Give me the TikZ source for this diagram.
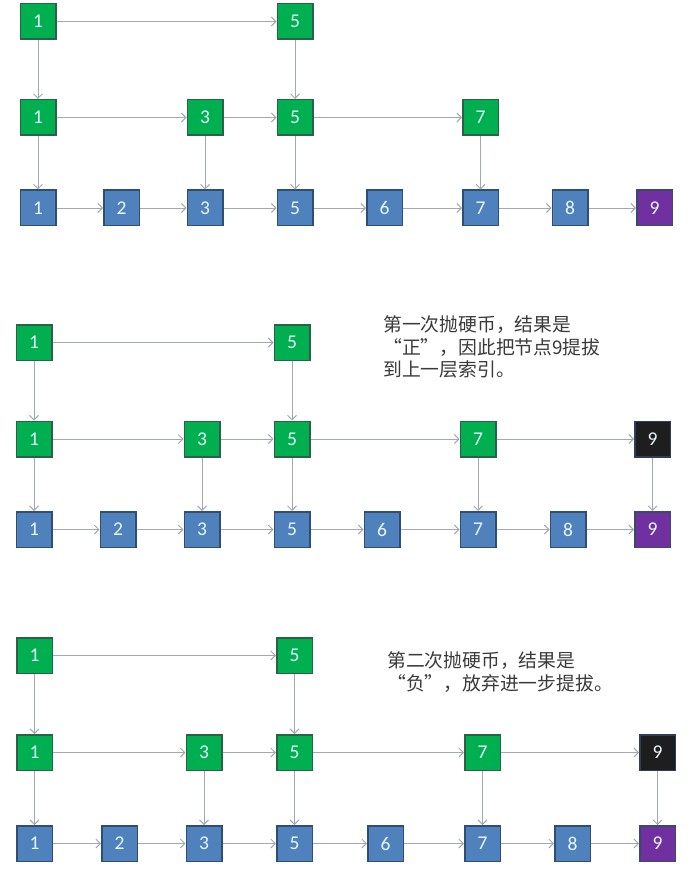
\documentclass[tikz,border=0pt]{standalone}
\usepackage{fontspec}
\setmainfont{Carlito}
\newfontfamily\cjk{Noto Sans CJK SC}
\usetikzlibrary{arrows.meta}
\definecolor{gfill}{HTML}{00B050}
\definecolor{gdraw}{HTML}{2B6148}
\definecolor{bfill}{HTML}{4F81BD}
\definecolor{bdraw}{HTML}{2E4E76}
\definecolor{pfill}{HTML}{7030A0}
\definecolor{pdraw}{HTML}{3B4A6A}
\definecolor{kfill}{HTML}{1E1E1E}
\definecolor{kdraw}{HTML}{2E3E5A}
\definecolor{arr}{HTML}{A2A9B0}
\definecolor{txt}{HTML}{3A3A3A}
\tikzset{
  box/.style={rectangle, minimum size=35.5pt, inner sep=0pt, line width=1.5pt,
    font=\fontsize{19.5}{19.5}\selectfont, text=white!90!cyan},
  gbox/.style={box, fill=gfill, draw=gdraw},
  bbox/.style={box, fill=bfill, draw=bdraw},
  pbox/.style={box, fill=pfill, draw=pdraw},
  kbox/.style={box, fill=kfill, draw=kdraw},
  link/.style={draw=arr, line width=0.9pt, -{Straight Barb[length=4.5pt,width=9pt,line width=0.9pt]}},
  note/.style={anchor=base west, inner sep=0pt, text=txt, font=\cjk\fontsize{18.8}{18.8}\selectfont},
}
% #1 prefix, #2 y1, #3 y2, #4 y3, #5 black nine (1/0); columns in \xa..\xh
\newcommand\mkpanel[5]{%
  \node[gbox] (#1ta) at (\xa,#2) {1};
  \node[gbox] (#1te) at (\xd,#2) {5};
  \node[gbox] (#1ma) at (\xa,#3) {1};
  \node[gbox] (#1mc) at (\xc,#3) {3};
  \node[gbox] (#1me) at (\xd,#3) {5};
  \node[gbox] (#1mg) at (\xf,#3) {7};
  \node[bbox] (#1ba) at (\xa,#4) {1};
  \node[bbox] (#1bb) at (\xb,#4) {2};
  \node[bbox] (#1bc) at (\xc,#4) {3};
  \node[bbox] (#1be) at (\xd,#4) {5};
  \node[bbox] (#1bf) at (\xe,#4) {6};
  \node[bbox] (#1bg) at (\xf,#4) {7};
  \node[bbox] (#1bh) at (\xg,#4) {8};
  \node[pbox] (#1bi) at (\xh,#4) {9};
  \draw[link] (#1ta) -- (#1te);
  \draw[link] (#1ta) -- (#1ma);
  \draw[link] (#1te) -- (#1me);
  \draw[link] (#1ma) -- (#1mc);
  \draw[link] (#1mc) -- (#1me);
  \draw[link] (#1me) -- (#1mg);
  \draw[link] (#1ma) -- (#1ba);
  \draw[link] (#1mc) -- (#1bc);
  \draw[link] (#1me) -- (#1be);
  \draw[link] (#1mg) -- (#1bg);
  \draw[link] (#1ba) -- (#1bb);
  \draw[link] (#1bb) -- (#1bc);
  \draw[link] (#1bc) -- (#1be);
  \draw[link] (#1be) -- (#1bf);
  \draw[link] (#1bf) -- (#1bg);
  \draw[link] (#1bg) -- (#1bh);
  \draw[link] (#1bh) -- (#1bi);
  \ifnum#5=1
    \node[kbox] (#1mi) at (\xh,#3) {9};
    \draw[link] (#1mg) -- (#1mi);
    \draw[link] (#1mi) -- (#1bi);
  \fi
}
\begin{document}
\begin{tikzpicture}[x=1pt,y=-1pt]
\useasboundingbox[fill=white] (0,0) rectangle (700,877);
% panel 1
\def\xa{38}\def\xb{121.5}\def\xc{205}\def\xd{295}\def\xe{384.5}\def\xf{480.5}\def\xg{570}\def\xh{654.5}
\mkpanel{p}{21.5}{117.5}{208}{0}
% panel 2
\def\xa{34}\def\xb{118}\def\xc{202}\def\xd{292}\def\xe{382}\def\xf{478}\def\xg{568}\def\xh{652.5}
\mkpanel{q}{342.5}{439}{529.5}{1}
\node[note] (qn1) at (383,331) {第一次抛硬币，结果是};
\node[note] (qn2) at (383,354) {“正”，因此把节点9提拔};
\node[note] (qn3) at (383,376.5) {到上一层索引。};
% panel 3
\def\xa{34.5}\def\xb{119.5}\def\xc{204}\def\xd{294.5}\def\xe{385.5}\def\xf{482.5}\def\xg{572.5}\def\xh{657.5}
\mkpanel{r}{655.5}{752.5}{843.5}{1}
\node[note] (rn1) at (387,667.5) {第二次抛硬币，结果是};
\node[note] (rn2) at (387,690) {“负”，放弃进一步提拔。};
\end{tikzpicture}
\end{document}
